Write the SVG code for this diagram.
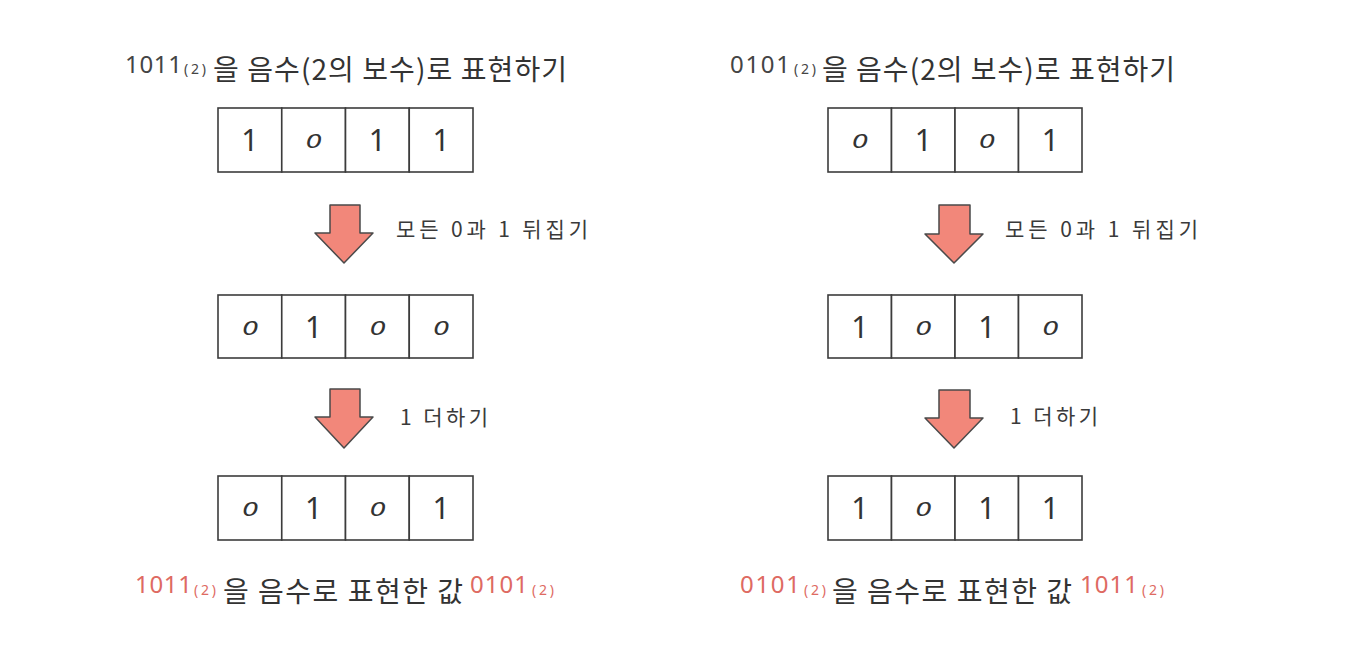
<svg xmlns="http://www.w3.org/2000/svg" width="1354" height="646" viewBox="0 0 1354 646">
<style>
.bg{fill:#ffffff}
.cell{fill:#ffffff;stroke:#3c3c3c;stroke-width:1.6}
.ko{font-family:"Noto Sans CJK KR","Noto Sans",sans-serif;fill:#333333}
.title{font-size:28px}
.lbl{font-size:21px;fill:#3a3a3a}
.dg{font-family:"Noto Sans","Noto Sans CJK KR",sans-serif;font-size:24px;fill:#444444}
.sub{font-family:"Noto Sans","Noto Sans CJK KR",sans-serif;font-size:14px;fill:#444444}
.red{fill:#de6a62}
.one{font-family:"Noto Sans",sans-serif;font-size:30px;fill:#333333;text-anchor:middle}
.zero{font-family:"Noto Sans",sans-serif;font-size:20px;font-style:italic;fill:#333333;text-anchor:middle}
.arrow{fill:#f2877a;stroke:#4a4a4a;stroke-width:1.5;stroke-linejoin:round}
</style>
<rect class="bg" x="0" y="0" width="1354" height="646"/>

<!-- Titles -->
<g id="title-left">
<text class="dg" x="125" y="73" textLength="57">1011</text>
<text class="sub" x="184" y="74" textLength="22">(2)</text>
<text class="ko title" x="213" y="80" textLength="354">을 음수(2의 보수)로 표현하기</text>
</g>
<g id="title-right">
<text class="dg" x="730" y="73" textLength="60">0101</text>
<text class="sub" x="794" y="74" textLength="22">(2)</text>
<text class="ko title" x="822" y="80" textLength="353">을 음수(2의 보수)로 표현하기</text>
</g>

<!-- Left column -->
<g id="left-row1">
<rect class="cell" x="218" y="108" width="63.75" height="64"/>
<rect class="cell" x="281.75" y="108" width="63.75" height="64"/>
<rect class="cell" x="345.5" y="108" width="63.75" height="64"/>
<rect class="cell" x="409.25" y="108" width="63.75" height="64"/>
<text class="one" x="249.9" y="151">1</text>
<text class="zero" transform="translate(313.6,148) scale(1.45,1)">0</text>
<text class="one" x="377.4" y="151">1</text>
<text class="one" x="441.1" y="151">1</text>
</g>
<g id="left-row2">
<rect class="cell" x="218" y="295" width="63.75" height="63"/>
<rect class="cell" x="281.75" y="295" width="63.75" height="63"/>
<rect class="cell" x="345.5" y="295" width="63.75" height="63"/>
<rect class="cell" x="409.25" y="295" width="63.75" height="63"/>
<text class="zero" transform="translate(249.9,334.5) scale(1.45,1)">0</text>
<text class="one" x="313.6" y="337.5">1</text>
<text class="zero" transform="translate(377.4,334.5) scale(1.45,1)">0</text>
<text class="zero" transform="translate(441.1,334.5) scale(1.45,1)">0</text>
</g>
<g id="left-row3">
<rect class="cell" x="218" y="476" width="63.75" height="64"/>
<rect class="cell" x="281.75" y="476" width="63.75" height="64"/>
<rect class="cell" x="345.5" y="476" width="63.75" height="64"/>
<rect class="cell" x="409.25" y="476" width="63.75" height="64"/>
<text class="zero" transform="translate(249.9,516) scale(1.45,1)">0</text>
<text class="one" x="313.6" y="519">1</text>
<text class="zero" transform="translate(377.4,516) scale(1.45,1)">0</text>
<text class="one" x="441.1" y="519">1</text>
</g>

<!-- Right column -->
<g id="right-row1">
<rect class="cell" x="828" y="108" width="63.5" height="64"/>
<rect class="cell" x="891.5" y="108" width="63.5" height="64"/>
<rect class="cell" x="955" y="108" width="63.5" height="64"/>
<rect class="cell" x="1018.5" y="108" width="63.5" height="64"/>
<text class="zero" transform="translate(859.75,148) scale(1.45,1)">0</text>
<text class="one" x="923.25" y="151">1</text>
<text class="zero" transform="translate(986.75,148) scale(1.45,1)">0</text>
<text class="one" x="1050.25" y="151">1</text>
</g>
<g id="right-row2">
<rect class="cell" x="828" y="295" width="63.5" height="63"/>
<rect class="cell" x="891.5" y="295" width="63.5" height="63"/>
<rect class="cell" x="955" y="295" width="63.5" height="63"/>
<rect class="cell" x="1018.5" y="295" width="63.5" height="63"/>
<text class="one" x="859.75" y="337.5">1</text>
<text class="zero" transform="translate(923.25,334.5) scale(1.45,1)">0</text>
<text class="one" x="986.75" y="337.5">1</text>
<text class="zero" transform="translate(1050.25,334.5) scale(1.45,1)">0</text>
</g>
<g id="right-row3">
<rect class="cell" x="828" y="476" width="63.5" height="64"/>
<rect class="cell" x="891.5" y="476" width="63.5" height="64"/>
<rect class="cell" x="955" y="476" width="63.5" height="64"/>
<rect class="cell" x="1018.5" y="476" width="63.5" height="64"/>
<text class="one" x="859.75" y="519">1</text>
<text class="zero" transform="translate(923.25,516) scale(1.45,1)">0</text>
<text class="one" x="986.75" y="519">1</text>
<text class="one" x="1050.25" y="519">1</text>
</g>

<!-- Connectors (arrows) -->
<g id="connectors">
<polygon class="arrow" points="330,205 360,205 360,233 373,233 344,263 315,233 330,233"/>
<polygon class="arrow" points="330,389 360,389 360,417 373,417 344,448 315,417 330,417"/>
<polygon class="arrow" points="939,205 970,205 970,234 983,234 954,263 925,234 939,234"/>
<polygon class="arrow" points="939,390 970,390 970,418 983,418 954,448 925,418 939,418"/>
</g>

<!-- Arrow labels -->
<g id="labels">
<text class="ko lbl" x="396" y="237" textLength="192">모든 0과 1 뒤집기</text>
<text class="ko lbl" x="400" y="425" textLength="88">1 더하기</text>
<text class="ko lbl" x="1005" y="237" textLength="193">모든 0과 1 뒤집기</text>
<text class="ko lbl" x="1010" y="424" textLength="88">1 더하기</text>
</g>

<!-- Results -->
<g id="result-left">
<text class="dg red" x="135" y="593" textLength="57">1011</text>
<text class="sub red" x="194" y="595" textLength="22">(2)</text>
<text class="ko title" x="223" y="602" textLength="240">을 음수로 표현한 값</text>
<text class="dg red" x="470" y="593" textLength="58">0101</text>
<text class="sub red" x="532" y="595" textLength="22">(2)</text>
</g>
<g id="result-right">
<text class="dg red" x="740" y="593" textLength="60">0101</text>
<text class="sub red" x="804" y="595" textLength="22">(2)</text>
<text class="ko title" x="832" y="602" textLength="240">을 음수로 표현한 값</text>
<text class="dg red" x="1080" y="593" textLength="58">1011</text>
<text class="sub red" x="1142" y="595" textLength="22">(2)</text>
</g>
</svg>
